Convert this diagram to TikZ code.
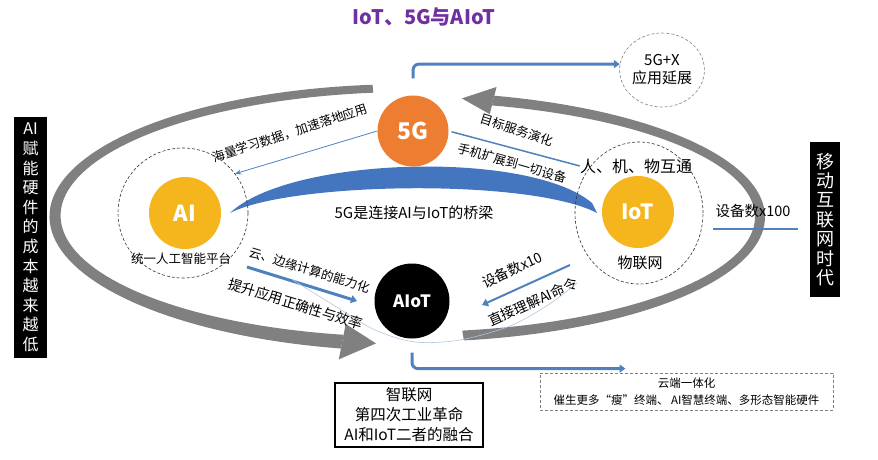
\documentclass[tikz,border=0pt]{standalone}
\usepackage{fontspec}
\setmainfont{Noto Sans CJK SC}
\usetikzlibrary{arrows.meta,shapes.geometric}

\definecolor{ringgray}{RGB}{128,128,128}
\definecolor{lineblue}{RGB}{79,129,189}
\definecolor{bridgeblue}{RGB}{68,118,192}
\definecolor{orange5g}{RGB}{237,125,49}
\definecolor{gold}{RGB}{244,182,28}
\definecolor{titlepurple}{RGB}{112,48,160}

\tikzset{
  hub/.style={circle, inner sep=0pt, minimum size=72pt, text=white, font=\bfseries\fontsize{22}{22}\selectfont},
  dashring/.style={ellipse, draw=black!80, densely dashed, line width=0.6pt, inner sep=0pt},
  bar/.style={fill=black, text=white, inner sep=0pt, align=center},
  note/.style={inner sep=0pt, font=\fontsize{12.5}{14}\selectfont},
  flow/.style={draw=lineblue, line width=2pt, -{Triangle[width=8pt,length=6pt]}},
  thinflow/.style={draw=lineblue, line width=0.8pt, -{Stealth[width=5pt,length=6pt]}},
  swoosh/.style={fill=ringgray},
}

\begin{document}
\begin{tikzpicture}[x=1pt,y=-1pt]
\useasboundingbox (0,0) rectangle (878,459);

% gray rings round the three
\fill[swoosh] plot[domain=264:101,samples=80] ({410+(359+3*(264-\x)/163)*cos(\x)},{216+(132+3*(264-\x)/163)*sin(\x)})
  -- plot[domain=101:264,samples=80] ({410+(351-3*(264-\x)/163)*cos(\x)},{216+(124-3*(264-\x)/163)*sin(\x)}) -- cycle;
\fill[swoosh] ({410+373*cos(101)},{216+146*sin(101)}) -- ({410+355*cos(95.5)},{216+128*sin(95.5)})
  -- ({410+337*cos(101)},{216+110*sin(101)}) -- cycle;
\fill[swoosh] plot[domain=81:-76,samples=80] ({408+357*cos(\x)},{217+125*sin(\x)})
  -- plot[domain=-76:81,samples=80] ({408+347*cos(\x)},{217+115*sin(\x)}) -- cycle;
\fill[swoosh] ({408+366*cos(-76)},{217+134*sin(-76)}) -- ({408+352*cos(-81.2)},{217+120*sin(-81.2)})
  -- ({408+338*cos(-76)},{217+106*sin(-76)}) -- cycle;

% bridge
\fill[bridgeblue] (230,213) .. controls (290,156) and (530,150) .. (592,203) -- (597,213)
  .. controls (530,178) and (290,182) .. (230,213) -- cycle;

\node[font=\bfseries\fontsize{20}{20}\selectfont, text=titlepurple] (title) at (424,17) {IoT、5G与AIoT};

\node[dashring, minimum width=130pt, minimum height=130pt] (aiRing) at (183,213) {};
\node[dashring, minimum width=128pt, minimum height=142pt] (iotRing) at (639,213) {};
\node[dashring, draw=gray, minimum width=84pt, minimum height=74pt, align=center,
  font=\fontsize{15}{18}\selectfont] (fiveGX) at (662,70) {5G+X\\应用延展};

\node[hub, fill=orange5g, minimum size=71pt, font=\bfseries\fontsize{23}{23}\selectfont] (fiveG) at (413,131) {5G};
\node[hub, fill=gold] (ai) at (185,213) {AI};
\node[hub, fill=gold, font=\bfseries\fontsize{21}{21}\selectfont] (iot) at (638,212) {IoT};
\node[hub, fill=black, minimum size=75pt, font=\bfseries\fontsize{17}{17}\selectfont] (aiot) at (412,301) {AIoT};

\node[note] (aiName) at (181,259) {统一人工智能平台};
\node[note, font=\fontsize{15}{15}\selectfont] (iotName) at (640,263) {物联网};
\node[note, font=\fontsize{16}{16}\selectfont] (people) at (636,166) {人、机、物互通};
\node[note, font=\fontsize{14.5}{15}\selectfont] (x100) at (753,211) {设备数x100};
\node[note, font=\fontsize{15}{15}\selectfont] (bridge) at (414,213) {5G是连接AI与IoT的桥梁};

\node[note, rotate=18] (dataLbl) at (290,133) {海量学习数据，加速落地应用};
\node[note, rotate=-18] (targetLbl) at (517,130) {目标服务演化};
\node[note, rotate=-16] (phoneLbl) at (512,163) {手机扩展到一切设备};
\node[note, rotate=-17] (edgeLbl) at (310,270) {云、边缘计算的能力化};
\node[note, rotate=-17, font=\fontsize{14}{14}\selectfont] (accLbl) at (296,304) {提升应用正确性与效率};
\node[note, rotate=25, font=\fontsize{14}{14}\selectfont] (x10Lbl) at (512,270) {设备数x10};
\node[note, rotate=24, font=\fontsize{14}{14}\selectfont] (cmdLbl) at (533,302) {直接理解AI命令};

\node[bar, minimum width=33pt, minimum height=241pt, font=\fontsize{16}{19.6}\selectfont] (costBar) at (30.5,237.5)
  {AI\\赋\\能\\硬\\件\\的\\成\\本\\越\\来\\越\\低};
\node[bar, minimum width=30pt, minimum height=155pt, font=\fontsize{18}{19.4}\selectfont] (mobileBar) at (825,219.5)
  {移\\动\\互\\联\\网\\时\\代};

\node[draw=black, line width=1.2pt, minimum width=148pt, minimum height=64pt, inner sep=0pt, align=center,
  font=\fontsize{15.5}{20}\selectfont] (fusion) at (409,415) {智联网\\第四次工业革命\\AI和IoT二者的融合};
\node[draw=gray, densely dashed, line width=0.8pt, minimum width=293pt, minimum height=37pt, inner sep=0pt, align=center,
  font=\fontsize{11.5}{17}\selectfont] (cloud) at (686.5,391.5) {云端一体化\\催生更多“瘦”终端、 AI智慧终端、多形态智能硬件};

% connectors
\draw[flow, line width=3pt, rounded corners=6pt, shorten <=17pt] (fiveG.north) |- (fiveGX.172);
\draw[flow, line width=3pt, rounded corners=6pt, shorten <=14pt] (aiot.south) |- ([shift={(-61,-4)}]cloud.north);
\draw[thinflow] (fiveG.west) -- (aiRing.37);
\draw[lineblue, line width=1.5pt, shorten <=3pt] (fiveG.east) -- (people.west);
\draw[flow, line width=3pt] ([shift={(64,54)}]aiRing.center) -- ([shift={(-55,0)}]aiot.center);
\draw[flow] ([shift={(-69,52)}]iotRing.center) -- ([shift={(70,4)}]aiot.center);
\draw[lineblue, line width=1.5pt] ([shift={(-12,9.5)}]mobileBar.west) -- ([shift={(-40,18)}]x100.center);
\draw[lineblue!45, line width=0.6pt] plot[smooth] coordinates {(293,280) (335,306) (375,330) (415,342) (460,340) (510,326) (548,305) (577,283)};
\end{tikzpicture}
\end{document}
